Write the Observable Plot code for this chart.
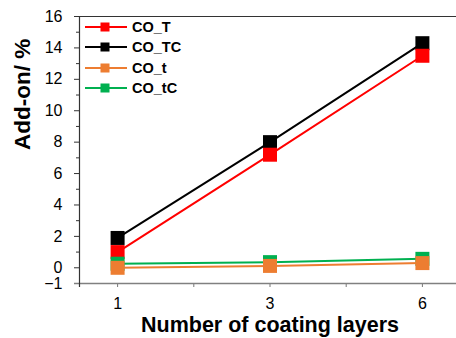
<!DOCTYPE html>
<html>
<head>
<meta charset="utf-8">
<script src="https://cdn.jsdelivr.net/npm/d3@7"></script>
<script src="https://cdn.jsdelivr.net/npm/@observablehq/plot@0.6"></script>
<style>
  html, body { margin: 0; padding: 0; background: #fff; overflow: hidden; }
  #wrap { position: relative; width: 456px; height: 338px; font-family: "Liberation Sans", Arial, sans-serif; }
  #wrap g[aria-label="y-axis tick label"], #wrap g[aria-label="x-axis tick label"] { font-size: 16px !important; }
  #wrap g[aria-label="y-axis tick label"] text, #wrap g[aria-label="x-axis tick label"] text { font-size: 16px !important; }
  #legend { position: absolute; left: 85px; top: 17px; }
  .row { display: flex; align-items: center; height: 20.3px; }
  .row span { font-weight: bold; font-size: 14.5px; margin-left: 5px; color: #000; }
</style>
</head>
<body>
<div id="wrap"></div>
<script>
const layers = ["1", "3", "6"];
const seriesNames = ["CO_T", "CO_TC", "CO_t", "CO_tC"];
const CO_T  = [1.0, 7.2, 13.5];
const CO_TC = [1.9, 8.0, 14.3];
const CO_t  = [0.0, 0.12, 0.3];
const CO_tC = [0.26, 0.36, 0.57];
const colors = {CO_T: "#ff0000", CO_TC: "#000000", CO_t: "#ed7d31", CO_tC: "#00b050"};
const yMajor = [16, 14, 12, 10, 8, 6, 4, 2, 0, -1];
const yMinor = [15, 13, 11, 9, 7, 5, 3, 1];

const valuesBySeries = {CO_T, CO_TC, CO_t, CO_tC};
const rows = seriesNames.map(name => layers.map((l, i) => ({series: name, i, layer: l, value: valuesBySeries[name][i]})));
// drawing order: black, red, green, orange
const drawOrder = ["CO_TC", "CO_T", "CO_tC", "CO_t"];

const seriesMarks = drawOrder.flatMap(name => {
  const d = rows[seriesNames.indexOf(name)];
  return [
    Plot.line(d, {x: "i", y: "value", stroke: colors[name], strokeWidth: 2}),
    Plot.dot(d, {x: "i", y: "value", symbol: "square", r: 7.9, fill: colors[name], stroke: "none"})
  ];
});

const chart = Plot.plot({
  width: 456,
  height: 338,
  marginLeft: 79,
  marginRight: -4,
  marginTop: 16,
  marginBottom: 55,
  style: {fontFamily: "'Liberation Sans', Arial, sans-serif", fontSize: "16px", background: "#fff", overflow: "hidden"},
  x: {type: "linear", domain: [-0.25, 2.25]},
  y: {type: "linear", domain: [-1, 16]},
  marks: [
    Plot.axisY({ticks: yMajor, tickSize: 5, tickPadding: 12, label: null, stroke: "#333", color: "#000"}),
    Plot.axisY({ticks: yMinor, tickSize: 3, text: null, label: null, stroke: "#333"}),
    Plot.axisX({ticks: [0, 1, 2], tickFormat: i => layers[i], tickSize: 4, tickPadding: 10, label: null, stroke: "#777", color: "#000"}),
    Plot.axisX({ticks: [0.5, 1.5], tickSize: 4, text: null, label: null, stroke: "#777"}),
    Plot.ruleY([-1], {stroke: "#808080", strokeWidth: 1.5, insetLeft: -5}),
    Plot.ruleY([16], {stroke: "#333", strokeWidth: 1.2}),
    Plot.ruleX([-0.25], {stroke: "#333", strokeWidth: 1.2, insetBottom: -4}),
    ...seriesMarks,
    Plot.text(["Number of coating layers"], {frameAnchor: "bottom", dy: 48, fontSize: 21.5, fontWeight: "bold", fill: "#000"}),
    Plot.text(["Add-on/ %"], {frameAnchor: "left", dx: -57, rotate: -90, fontSize: 22.5, fontWeight: "bold", fill: "#000"})
  ]
});

const wrap = document.getElementById("wrap");
wrap.appendChild(chart);

const legend = document.createElement("div");
legend.id = "legend";
for (const name of seriesNames) {
  const row = document.createElement("div");
  row.className = "row";
  row.innerHTML = `<svg width="42" height="12"><line x1="0" y1="6" x2="42" y2="6" stroke="${colors[name]}" stroke-width="2"/><rect x="15.5" y="1.5" width="9" height="9" fill="${colors[name]}"/></svg><span>${name}</span>`;
  legend.appendChild(row);
}
wrap.appendChild(legend);
</script>
</body>
</html>
